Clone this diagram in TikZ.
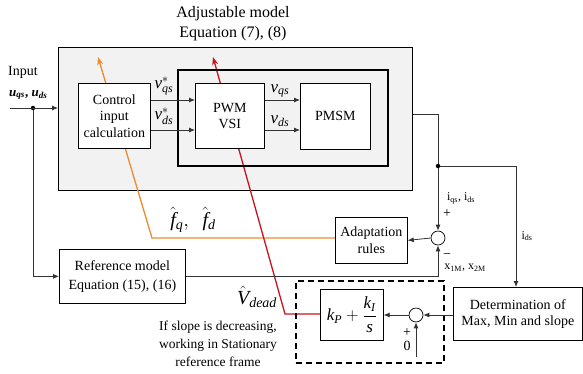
\documentclass[tikz,border=0pt]{standalone}
\usepackage{fontspec}
\setmainfont{Liberation Serif}
\usetikzlibrary{arrows.meta}
\definecolor{panel}{HTML}{F2F2F2}
\definecolor{adaptline}{HTML}{EE8A2E}
\definecolor{deadline}{HTML}{C8141E}
\pgfdeclarelayer{panelbg}
\pgfdeclarelayer{paths}
\pgfsetlayers{panelbg,paths,main}
\tikzset{
  x=1pt, y=-1pt,
  every node/.style={font=\fontsize{14}{16.5}\selectfont, inner sep=0pt},
  blk/.style={draw, fill=white, line width=0.7pt, align=center},
  sig/.style={draw=black!80, line width=0.8pt},
  arr/.style={sig, -{Latex[length=6pt,width=5pt]}},
  sumpt/.style={draw, fill=white, circle, minimum size=14pt, line width=0.7pt},
  junc/.style={circle, fill=black, minimum size=4.5pt},
  small/.style={font=\fontsize{12}{14}\selectfont},
  vlbl/.style={font=\fontsize{17}{19}\selectfont},
  biglbl/.style={font=\fontsize{20}{22}\selectfont},
  fbpath/.style={line width=1.3pt, -{Stealth[length=8pt,width=6pt]}},
}
\newcommand{\mi}[1]{\mathit{#1}}
\begin{document}
\begin{tikzpicture}
\useasboundingbox (0,0) rectangle (583,373);

% adjustable model enclosure
\begin{pgfonlayer}{panelbg}
\node[draw, fill=panel, line width=0.7pt, minimum width=354pt, minimum height=143pt, anchor=north west] (adj) at (58,47) {};
\end{pgfonlayer}
% inverter/motor frame
\node[draw, line width=2.2pt, minimum width=210pt, minimum height=96pt, anchor=north west] (drive) at (177,69) {};

\node[font=\fontsize{16}{19}\selectfont, align=center] (title) at (233,24) {Adjustable model\\[1pt]Equation (7), (8)};

% blocks
\node[blk, minimum width=72pt, minimum height=65pt, anchor=north west] (ctrl) at (78,83) {Control\\input\\calculation};
\node[blk, minimum width=69pt, minimum height=65pt, anchor=north west] (pwm) at (195,83) {PWM\\VSI};
\node[blk, minimum width=70pt, minimum height=66pt, anchor=north west] (pmsm) at (300,83) {PMSM};

\node[blk, minimum width=72pt, minimum height=46pt, anchor=north west] (adapt) at (335,217) {Adaptation\\rules};
\node[blk, minimum width=126pt, minimum height=54pt, anchor=north west] (ref) at (59,249) {Reference model\\[3pt]Equation (15), (16)};
\node[blk, minimum width=129pt, minimum height=53pt, anchor=north west] (det) at (453,287) {Determination of\\Max, Min and slope};

\node[sumpt] (s1) at (438,238) {};
\node[sumpt] (s2) at (416,315) {};

% dashed PI frame
\node[draw, line width=2pt, dash pattern=on 6pt off 4pt, minimum width=148pt, minimum height=82pt, anchor=north west] (piframe) at (295,280) {};
\node[blk, minimum width=63pt, minimum height=51pt, anchor=north west, font=\fontsize{17}{19}\selectfont] (pi) at (320,289) {$\mi{k}_{\mi{P}}+\displaystyle\frac{\mi{k}_{\mi{I}}}{\mi{s}}$};

% estimated disturbance path (orange) and dead-time voltage path (red), passing under the blocks
\coordinate (fbend) at (152,238);
\coordinate (ftip) at (98,57);
\coordinate (vbend) at (285,314);
\coordinate (vtip) at (213,57);
\begin{pgfonlayer}{paths}
\draw[adaptline, fbpath] (adapt.west |- fbend) -- (fbend) -- (ftip);
\draw[deadline, fbpath] (pi.west |- vbend) -- (vbend) -- (vtip);
\end{pgfonlayer}

% input
\coordinate (in0) at (10,108);
\node[junc] (j1) at (33,108) {};
\draw[arr] (in0) -- (adj.west |- in0);
\node[anchor=west] (inlbl) at (8,72) {Input};
\node[anchor=west, font=\fontsize{13}{15}\selectfont] (inu) at (9,95) {\textbf{\textit{u\textsubscript{qs}}, \textit{u\textsubscript{ds}}}};
\draw[arr] (j1) |- (ref.west);

% reference voltages and machine voltages
\draw[arr] (ctrl.east |- 0,100) -- (pwm.west |- 0,100);
\draw[arr] (ctrl.east |- 0,130) -- (pwm.west |- 0,130);
\draw[arr] (pwm.east |- 0,100) -- (pmsm.west |- 0,100);
\draw[arr] (pwm.east |- 0,130) -- (pmsm.west |- 0,130);
\node[vlbl] (vq1) at (164,86) {$\mi{v}^{*}_{\mi{qs}}$};
\node[vlbl] (vd1) at (164,116) {$\mi{v}^{*}_{\mi{ds}}$};
\node[vlbl] (vq2) at (280,91) {$\mi{v}_{\mi{qs}}$};
\node[vlbl] (vd2) at (280,121) {$\mi{v}_{\mi{ds}}$};

% measured currents
\coordinate (o1) at (438,114);
\node[junc] (j2) at (438,166) {};
\draw[sig] (adj.east |- o1) -- (o1) -- (j2);
\draw[arr] (j2) -- (s1.north);
\draw[arr] (j2) -| (det.north -| 516,0);
\draw[arr] (s1.west) -- (adapt.east);
\draw[arr] (ref.east) -| (s1.south);
\node[small] (iq) at (461,198) {i\textsubscript{qs}, i\textsubscript{ds}};
\node (p1) at (447,214) {+};
\node (m1) at (447,256) {\textminus};
\node[small] (xm) at (465,268) {x\textsubscript{1M}, x\textsubscript{2M}};
\node[small] (ids) at (527,236) {i\textsubscript{ds}};

% slope branch
\draw[arr] (det.west |- s2) -- (s2.east);
\draw[arr] (s2.west) -- (pi.east |- s2);
\coordinate (zero) at (416,357);
\draw[arr] (zero) -- (s2.south);
\node (p2) at (407,333) {+};
\node (z2) at (407,346) {0};

% labels on the feedback paths
\node[biglbl] (fq) at (193,220) {$\hat{\mi{f}}_{\mi{q}},\ \ \hat{\mi{f}}_{\mi{d}}$};
\node[biglbl] (vdead) at (257,297) {$\hat{\mi{V}}_{\mi{dead}}$};
\node[align=center, font=\fontsize{13.5}{18}\selectfont] (note) at (218,344) {If slope is decreasing,\\working in Stationary\\reference frame};
\end{tikzpicture}
\end{document}
